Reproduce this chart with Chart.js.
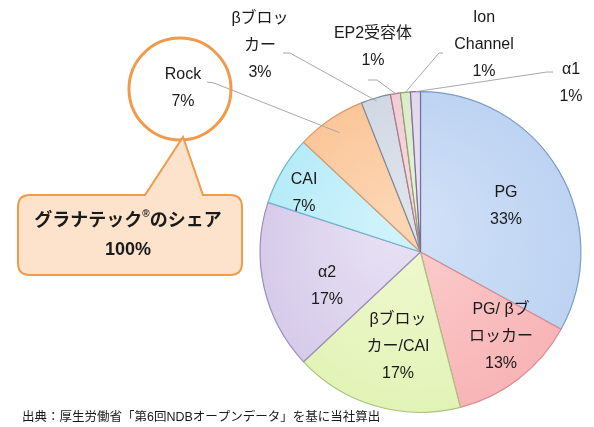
<!DOCTYPE html>
<html>
<head>
<meta charset="utf-8">
<script src="https://cdn.jsdelivr.net/npm/chart.js@4"></script>
<style>
  html, body { margin: 0; padding: 0; background: #fff; }
  #wrap { width: 594px; height: 427px; }
</style>
</head>
<body>
<div id="wrap"><canvas id="share-chart" width="594" height="427"></canvas></div>
<script>
// データ (時計回り、上から)
const categories = ['PG', 'PG/βブロッカー', 'βブロッカー/CAI', 'α2', 'CAI', 'Rock', 'βブロッカー', 'EP2受容体', 'Ion Channel', 'α1'];
const shares = [33, 13, 17, 17, 7, 7, 3, 1, 1, 1];
// 各スライスに表示するラベル行
const labelLines = [
    ['PG', '33%'],
    ['PG/ βブ', 'ロッカー', '13%'],
    ['βブロッ', 'カー/CAI', '17%'],
    ['α2', '17%'],
    ['CAI', '7%'],
    ['Rock', '7%'],
    ['βブロッ', 'カー', '3%'],
    ['EP2受容体', '1%'],
    ['Ion', 'Channel', '1%'],
    ['α1', '1%']
];

// 色 (中心側 / 外側 / 枠線)
const innerColors = ['#d4e3f8', '#fcd0d0', '#f1f9d2', '#e9e2f4', '#d0f3fc', '#fcd6b4', '#dfe5ed', '#f7dce2', '#e8f2dc', '#ece6f3'];
const outerColors = ['#bdd3f2', '#f8b4b6', '#e2f3b6', '#d6cbea', '#b6ebf8', '#fbc699', '#d0d8e3', '#f1ccd4', '#dbebc8', '#e0d8ec'];
const borderColors = ['#7d9cca', '#d98c90', '#a9c47c', '#9c8cc2', '#6fb6cf', '#dc9c6c', '#7c8898', '#b47888', '#8ca870', '#7c6ca0'];

// ラベルの配置 (テキスト中心座標)
const labelPos = [
    { x: 506, y: 193 },
    { x: 501, y: 310 },
    { x: 398, y: 320 },
    { x: 327, y: 273 },
    { x: 304, y: 180 },
    { x: 183, y: 75 },
    { x: 260, y: 19 },
    { x: 373, y: 34 },
    { x: 484, y: 18 },
    { x: 571, y: 70 }
];
// 外側ラベルの引き出し線 (起点、折れ点、円弧上の半径比)
const leaders = {
    5: { from: [207, 82], bend: [214, 83], r: 0.9 },
    6: { from: [283, 53], bend: [290, 53], r: 0.98 },
    7: { from: [368, 80], bend: [377, 80], r: 1.0 },
    8: { from: [443, 53], bend: [439, 53], r: 1.0 },
    9: { from: [553, 72], bend: [547, 72], r: 1.0 }
};

const FONT = '"Liberation Sans", Arial, "Noto Sans CJK JP", sans-serif';

function sliceFill(ctx) {
    const chart = ctx.chart;
    const area = chart.chartArea;
    if (!area) return innerColors[ctx.dataIndex];
    const cx = (area.left + area.right) / 2;
    const cy = (area.top + area.bottom) / 2;
    const r = Math.min(area.right - area.left, area.bottom - area.top) / 2;
    const g = chart.ctx.createRadialGradient(cx - r * 0.2, cy - r * 0.2, 0, cx, cy, r);
    g.addColorStop(0, innerColors[ctx.dataIndex]);
    g.addColorStop(1, outerColors[ctx.dataIndex]);
    return g;
}

const annotationPlugin = {
    id: 'pieAnnotations',
    afterDraw(chart) {
        const ctx = chart.ctx;
        const arcs = chart.getDatasetMeta(0).data;
        ctx.save();

        // 引き出し線
        ctx.strokeStyle = '#a8a8a8';
        ctx.lineWidth = 1;
        Object.keys(leaders).forEach(k => {
            const arc = arcs[k];
            const L = leaders[k];
            const mid = (arc.startAngle + arc.endAngle) / 2;
            const ex = arc.x + Math.cos(mid) * arc.outerRadius * L.r;
            const ey = arc.y + Math.sin(mid) * arc.outerRadius * L.r;
            ctx.beginPath();
            ctx.moveTo(L.from[0], L.from[1]);
            ctx.lineTo(L.bend[0], L.bend[1]);
            ctx.lineTo(ex, ey);
            ctx.stroke();
        });

        // ラベル
        ctx.fillStyle = '#1a1a1a';
        ctx.textAlign = 'center';
        ctx.textBaseline = 'middle';
        ctx.font = '16px ' + FONT;
        labelLines.forEach((lines, i) => {
            const p = labelPos[i];
            lines.forEach((t, j) => {
                ctx.fillText(t, p.x, p.y + j * 27);
            });
        });

        // 吹き出し (Rock の円 + コメント)
        ctx.strokeStyle = '#f09a4a';
        ctx.lineWidth = 3;
        ctx.beginPath();
        ctx.arc(180, 89, 51, 0, Math.PI * 2);
        ctx.stroke();

        ctx.fillStyle = '#fde3cc';
        ctx.lineWidth = 2;
        ctx.beginPath();
        const bx = 18, by = 195, bw = 224, bh = 80, rr = 12;
        ctx.moveTo(bx + rr, by);
        ctx.lineTo(145, by);
        ctx.lineTo(183, 137);
        ctx.lineTo(203, by);
        ctx.lineTo(bx + bw - rr, by);
        ctx.quadraticCurveTo(bx + bw, by, bx + bw, by + rr);
        ctx.lineTo(bx + bw, by + bh - rr);
        ctx.quadraticCurveTo(bx + bw, by + bh, bx + bw - rr, by + bh);
        ctx.lineTo(bx + rr, by + bh);
        ctx.quadraticCurveTo(bx, by + bh, bx, by + bh - rr);
        ctx.lineTo(bx, by + rr);
        ctx.quadraticCurveTo(bx, by, bx + rr, by);
        ctx.closePath();
        ctx.fill();
        ctx.stroke();

        // 「グラナテック®のシェア」 (® は上付き)
        ctx.fillStyle = '#1a1a1a';
        const big = 'bold 18px ' + FONT, small = 'bold 10px ' + FONT;
        const partA = 'グラナテック', partR = '®', partB = 'のシェア';
        ctx.font = big;
        const wA = ctx.measureText(partA).width, wB = ctx.measureText(partB).width;
        ctx.font = small;
        const wR = ctx.measureText(partR).width;
        let x = 128 - (wA + wR + wB) / 2;
        ctx.textAlign = 'left';
        ctx.font = big;
        ctx.fillText(partA, x, 221);
        x += wA;
        ctx.font = small;
        ctx.fillText(partR, x, 214);
        x += wR;
        ctx.font = big;
        ctx.fillText(partB, x, 221);
        ctx.textAlign = 'center';
        ctx.fillText('100%', 128, 250);

        // 出典
        ctx.font = '12.5px ' + FONT;
        ctx.textAlign = 'left';
        ctx.fillText('出典：厚生労働省「第6回NDBオープンデータ」を基に当社算出', 22, 418);
        ctx.restore();
    }
};

new Chart(document.getElementById('share-chart'), {
    type: 'pie',
    data: {
        labels: categories,
        datasets: [{
            data: shares,
            backgroundColor: sliceFill,
            borderColor: borderColors,
            borderWidth: 1.2
        }]
    },
    options: {
        responsive: false,
        animation: false,
        layout: { padding: { left: 259, right: 12, top: 91, bottom: 14 } },
        plugins: {
            legend: { display: false },
            tooltip: { enabled: false }
        }
    },
    plugins: [annotationPlugin]
});
</script>
</body>
</html>
